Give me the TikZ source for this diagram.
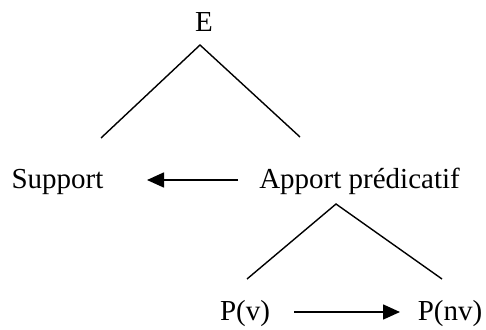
\documentclass[tikz,border=0pt]{standalone}
\usepackage{fontspec}
\setmainfont{Liberation Serif}
\usetikzlibrary{arrows.meta}
\begin{document}
\begin{tikzpicture}[x=1pt,y=-1pt,
  lbl/.style={anchor=base,inner sep=0pt,font=\fontsize{29}{34}\selectfont},
  branch/.style={line width=1.4pt},
  arr/.style={line width=1.6pt,-{Triangle[length=17pt,width=15pt]}}]
\useasboundingbox (0,0) rectangle (486,329);
\node[lbl] (E) at (204,32) {E};
\node[lbl] (S) at (57.5,188) {Support};
\node[lbl] (A) at (359.5,188) {Apport prédicatif};
\node[lbl] (Pv) at (245,320) {P(v)};
\node[lbl] (Pnv) at (450,320) {P(nv)};
\coordinate (t1) at (200,45);
\coordinate (l1) at (101,138);
\coordinate (r1) at (300,137);
\coordinate (t2) at (336,204);
\coordinate (l2) at (247,279);
\coordinate (r2) at (442,279);
\draw[branch] (l1) -- (t1) -- (r1);
\draw[branch] (l2) -- (t2) -- (r2);
\coordinate (a1s) at (238,180);
\coordinate (a1e) at (147,180);
\coordinate (a2s) at (294,312);
\coordinate (a2e) at (400,312);
\draw[arr] (a1s) -- (a1e);
\draw[arr] (a2s) -- (a2e);
\end{tikzpicture}
\end{document}
